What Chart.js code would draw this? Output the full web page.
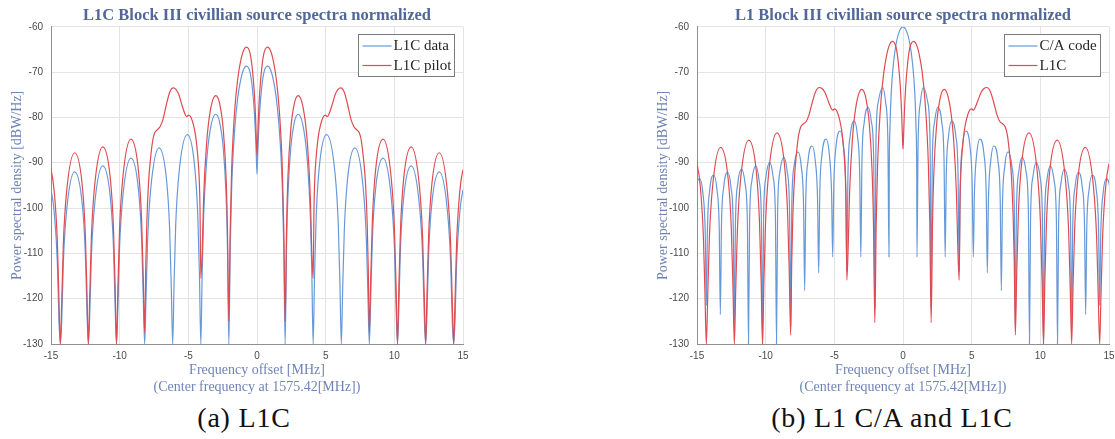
<!DOCTYPE html>
<html>
<head>
<meta charset="utf-8">
<title>Block III civilian source spectra</title>
<script src="https://cdn.jsdelivr.net/npm/chart.js@4.4.1/dist/chart.umd.min.js"></script>
<style>
  html, body { margin: 0; padding: 0; background: #fff; }
  body { position: relative; width: 1115px; height: 439px; overflow: hidden; }
  canvas { position: absolute; top: 0; }
  #leftChart { left: 0; }
  #rightChart { left: 646px; }
  .caption {
    position: absolute; top: 404px; line-height: 28px;
    font-family: "Liberation Serif", serif; font-size: 28px; letter-spacing: 0.8px;
    color: #111; white-space: nowrap; transform: translateX(-50%);
  }
</style>
</head>
<body>
<canvas id="leftChart" width="514" height="402"></canvas>
<canvas id="rightChart" width="514" height="402"></canvas>
<div class="caption" style="left:244px">(a) L1C</div>
<div class="caption" style="left:892px">(b) L1 C/A and L1C</div>
<script>
// frequency offset [MHz] / PSD [dBW/Hz] pairs

const l1cData = [
  [-15.33, -93.8], [-15.0, -96.0], [-14.77, -100.8], [-14.54, -111.8], [-14.42, -124.8], [-14.32, -130],
  [-14.22, -125.0], [-14.1, -112.0], [-13.87, -100.8], [-13.28, -92.0], [-12.73, -99.0], [-12.5, -110.0], [-12.38, -123.0], [-12.28, -130],
  [-12.18, -123.7], [-12.06, -110.7], [-11.83, -99.5], [-11.23, -90.7], [-10.68, -97.7], [-10.45, -108.7], [-10.33, -121.7], [-10.23, -130],
  [-10.13, -122.0], [-10.01, -109.0], [-9.78, -97.8], [-9.18, -89.0], [-8.63, -96.0], [-8.4, -107.0], [-8.28, -120.0], [-8.18, -130],
  [-8.08, -119.7], [-7.96, -106.7], [-7.73, -95.5], [-7.13, -86.7], [-6.59, -93.7], [-6.36, -104.7], [-6.24, -117.7], [-6.14, -130],
  [-6.04, -116.8], [-5.92, -103.8], [-5.69, -92.6], [-5.07, -83.8], [-4.54, -90.8], [-4.31, -101.8], [-4.19, -114.8], [-4.09, -130],
  [-3.99, -114.0], [-3.89, -102.2], [-3.68, -90.2], [-3.41, -82.8], [-3.0, -79.3], [-2.73, -80.9], [-2.46, -86.7], [-2.25, -97.4], [-2.15, -108.9], [-2.05, -130],
  [-1.95, -108.7], [-1.85, -96.1], [-1.75, -88.8], [-1.6, -81.7], [-1.4, -75.6], [-1.2, -71.9], [-1.0, -69.6], [-0.77, -68.7],
  [-0.5, -70.1], [-0.35, -73.2], [-0.2, -78.5], [-0.1, -84.5], [-0.05, -88.5], [0, -92.5],
  [0.05, -88.5], [0.1, -84.5], [0.2, -78.5], [0.35, -73.2], [0.5, -70.1],
  [0.77, -68.7], [1.0, -69.6], [1.2, -71.9], [1.4, -75.6], [1.6, -81.7], [1.75, -88.8], [1.85, -96.1], [1.95, -108.7], [2.05, -130],
  [2.15, -108.9], [2.25, -97.4], [2.46, -86.7], [2.73, -80.9], [3.0, -79.3], [3.41, -82.8], [3.68, -90.2], [3.89, -102.2], [3.99, -114.0], [4.09, -130],
  [4.19, -114.8], [4.31, -101.8], [4.54, -90.8], [5.07, -83.8], [5.69, -92.6], [5.92, -103.8], [6.04, -116.8], [6.14, -130],
  [6.24, -117.7], [6.36, -104.7], [6.59, -93.7], [7.13, -86.7], [7.73, -95.5], [7.96, -106.7], [8.08, -119.7], [8.18, -130],
  [8.28, -120.0], [8.4, -107.0], [8.63, -96.0], [9.18, -89.0], [9.78, -97.8], [10.01, -109.0], [10.13, -122.0], [10.23, -130],
  [10.33, -121.7], [10.45, -108.7], [10.68, -97.7], [11.23, -90.7], [11.83, -99.5], [12.06, -110.7], [12.18, -123.7], [12.28, -130],
  [12.38, -123.0], [12.5, -110.0], [12.73, -99.0], [13.28, -92.0], [13.87, -100.8], [14.1, -112.0], [14.22, -125.0], [14.32, -130],
  [14.42, -124.8], [14.54, -111.8], [14.77, -100.8], [15.0, -96.0], [15.33, -93.8]
];

const l1cPilot = [
  [-15.33, -89.2], [-15.0, -91.5], [-14.77, -96.2], [-14.54, -107.2], [-14.42, -120.2], [-14.32, -130],
  [-14.22, -120.8], [-14.1, -107.8], [-13.87, -96.6], [-13.28, -87.8], [-12.73, -94.8], [-12.5, -105.8], [-12.38, -118.8], [-12.28, -130],
  [-12.18, -119.5], [-12.06, -106.5], [-11.83, -95.3], [-11.23, -86.5], [-10.68, -93.5], [-10.45, -104.5], [-10.33, -117.5], [-10.23, -130],
  [-10.13, -117.8], [-10.01, -104.8], [-9.78, -93.6], [-9.18, -84.8], [-8.63, -91.8], [-8.4, -102.8], [-8.28, -115.8], [-8.18, -127.5],
  [-8.1, -113.0], [-8.02, -103.0], [-7.9, -94.5], [-7.75, -89.0], [-7.6, -85.2], [-7.45, -83.4], [-7.25, -82.7], [-7.05, -82.0],
  [-6.85, -80.5], [-6.6, -77.2], [-6.35, -74.4], [-6.1, -73.5], [-5.9, -73.8], [-5.7, -74.9], [-5.5, -76.9], [-5.3, -78.8],
  [-5.12, -79.8], [-4.98, -79.5], [-4.8, -80.0], [-4.6, -82.0], [-4.45, -84.5], [-4.3, -89.0], [-4.2, -94.0], [-4.15, -100.0], [-4.09, -115.5],
  [-3.99, -109.9], [-3.89, -98.1], [-3.68, -86.1], [-3.41, -78.7], [-3.0, -75.2], [-2.73, -76.8], [-2.46, -82.6], [-2.25, -93.3], [-2.15, -104.8], [-2.05, -125.0],
  [-1.95, -104.5], [-1.85, -91.9], [-1.75, -84.6], [-1.6, -77.5], [-1.4, -71.4], [-1.2, -67.7], [-1.0, -65.4], [-0.77, -64.5],
  [-0.5, -65.9], [-0.35, -69.0], [-0.2, -74.3], [-0.1, -80.3], [-0.05, -84.8], [0, -88.5],
  [0.05, -84.8], [0.1, -80.3], [0.2, -74.3], [0.35, -69.0], [0.5, -65.9],
  [0.77, -64.5], [1.0, -65.4], [1.2, -67.7], [1.4, -71.4], [1.6, -77.5], [1.75, -84.6], [1.85, -91.9], [1.95, -104.5], [2.05, -125.0],
  [2.15, -104.8], [2.25, -93.3], [2.46, -82.6], [2.73, -76.8], [3.0, -75.2], [3.41, -78.7], [3.68, -86.1], [3.89, -98.1], [3.99, -109.9], [4.09, -115.5],
  [4.15, -100.0], [4.2, -94.0], [4.3, -89.0], [4.45, -84.5], [4.6, -82.0], [4.8, -80.0], [4.98, -79.5], [5.12, -79.8],
  [5.3, -78.8], [5.5, -76.9], [5.7, -74.9], [5.9, -73.8], [6.1, -73.5], [6.35, -74.4], [6.6, -77.2], [6.85, -80.5],
  [7.05, -82.0], [7.25, -82.7], [7.45, -83.4], [7.6, -85.2], [7.75, -89.0], [7.9, -94.5], [8.02, -103.0], [8.1, -113.0], [8.18, -127.5],
  [8.28, -115.8], [8.4, -102.8], [8.63, -91.8], [9.18, -84.8], [9.78, -93.6], [10.01, -104.8], [10.13, -117.8], [10.23, -130],
  [10.33, -117.5], [10.45, -104.5], [10.68, -93.5], [11.23, -86.5], [11.83, -95.3], [12.06, -106.5], [12.18, -119.5], [12.28, -130],
  [12.38, -118.8], [12.5, -105.8], [12.73, -94.8], [13.28, -87.8], [13.87, -96.6], [14.1, -107.8], [14.22, -120.8], [14.32, -130],
  [14.42, -120.2], [14.54, -107.2], [14.77, -96.2], [15.0, -91.5], [15.33, -89.2]
];

const caCode = [
  [-15.35, -120.0], [-15.27, -105.5], [-15.1, -96.7], [-14.82, -93.5], [-14.57, -96.7], [-14.4, -105.5], [-14.32, -121.5],
  [-14.24, -104.7], [-14.07, -95.9], [-13.79, -92.7], [-13.55, -95.9], [-13.38, -104.7], [-13.3, -123.5],
  [-13.22, -104.1], [-13.05, -95.3], [-12.77, -92.1], [-12.53, -95.3], [-12.36, -104.1], [-12.28, -126.3],
  [-12.2, -103.4], [-12.03, -94.6], [-11.75, -91.4], [-11.5, -94.6], [-11.33, -103.4], [-11.25, -130],
  [-11.17, -102.7], [-11.0, -93.9], [-10.72, -90.7], [-10.48, -93.9], [-10.31, -102.7], [-10.23, -130],
  [-10.15, -101.9], [-9.98, -93.1], [-9.7, -89.9], [-9.46, -93.1], [-9.29, -101.9], [-9.21, -130],
  [-9.13, -100.8], [-8.96, -92.0], [-8.68, -88.8], [-8.43, -92.0], [-8.26, -100.8], [-8.18, -126.0],
  [-8.1, -99.6], [-7.93, -90.8], [-7.65, -87.6], [-7.41, -90.8], [-7.24, -99.6], [-7.16, -118.2],
  [-7.08, -98.3], [-6.91, -89.5], [-6.62, -86.3], [-6.39, -89.5], [-6.22, -98.3], [-6.14, -114.3],
  [-6.06, -96.8], [-5.89, -88.0], [-5.6, -84.8], [-5.37, -88.0], [-5.2, -96.8], [-5.12, -110.8],
  [-5.04, -95.0], [-4.87, -86.2], [-4.58, -83.0], [-4.34, -86.2], [-4.17, -95.0], [-4.09, -114.0],
  [-4.01, -92.8], [-3.84, -84.0], [-3.55, -80.8], [-3.32, -84.0], [-3.15, -92.8], [-3.07, -110.8],
  [-2.99, -89.8], [-2.82, -81.0], [-2.52, -77.8], [-2.3, -81.0], [-2.13, -89.8], [-2.05, -122.0],
  [-1.97, -85.4], [-1.8, -76.6], [-1.47, -73.4], [-1.27, -76.6], [-1.1, -85.4], [-1.02, -110.8],
  [-1.0, -92.0], [-0.95, -82.4], [-0.85, -74.2], [-0.7, -68.2], [-0.5, -63.7], [-0.25, -60.9], [0, -60.0],
  [0.25, -60.9], [0.5, -63.7], [0.7, -68.2], [0.85, -74.2], [0.95, -82.4], [1.0, -92.0], [1.02, -110.8],
  [1.1, -85.4], [1.27, -76.6], [1.47, -73.4], [1.8, -76.6], [1.97, -85.4], [2.05, -122.0],
  [2.13, -89.8], [2.3, -81.0], [2.52, -77.8], [2.82, -81.0], [2.99, -89.8], [3.07, -110.8],
  [3.15, -92.8], [3.32, -84.0], [3.55, -80.8], [3.84, -84.0], [4.01, -92.8], [4.09, -114.0],
  [4.17, -95.0], [4.34, -86.2], [4.58, -83.0], [4.87, -86.2], [5.04, -95.0], [5.12, -110.8],
  [5.2, -96.8], [5.37, -88.0], [5.6, -84.8], [5.89, -88.0], [6.06, -96.8], [6.14, -114.3],
  [6.22, -98.3], [6.39, -89.5], [6.62, -86.3], [6.91, -89.5], [7.08, -98.3], [7.16, -118.2],
  [7.24, -99.6], [7.41, -90.8], [7.65, -87.6], [7.93, -90.8], [8.1, -99.6], [8.18, -126.0],
  [8.26, -100.8], [8.43, -92.0], [8.68, -88.8], [8.96, -92.0], [9.13, -100.8], [9.21, -130],
  [9.29, -101.9], [9.46, -93.1], [9.7, -89.9], [9.98, -93.1], [10.15, -101.9], [10.23, -130],
  [10.31, -102.7], [10.48, -93.9], [10.72, -90.7], [11.0, -93.9], [11.17, -102.7], [11.25, -130],
  [11.33, -103.4], [11.5, -94.6], [11.75, -91.4], [12.03, -94.6], [12.2, -103.4], [12.28, -126.3],
  [12.36, -104.1], [12.53, -95.3], [12.77, -92.1], [13.05, -95.3], [13.22, -104.1], [13.3, -123.5],
  [13.38, -104.7], [13.55, -95.9], [13.79, -92.7], [14.07, -95.9], [14.24, -104.7], [14.32, -121.5],
  [14.4, -105.5], [14.57, -96.7], [14.82, -93.5], [15.1, -96.7], [15.27, -105.5], [15.35, -120.0]
];

const l1cSignal = [
  [-15.33, -87.9], [-15.0, -90.2], [-14.77, -94.9], [-14.54, -105.9], [-14.42, -118.9], [-14.32, -130],
  [-14.22, -119.6], [-14.1, -106.6], [-13.87, -95.4], [-13.28, -86.6], [-12.73, -93.6], [-12.5, -104.6], [-12.38, -117.6], [-12.28, -130],
  [-12.18, -118.0], [-12.06, -105.0], [-11.83, -93.8], [-11.23, -85.0], [-10.68, -92.0], [-10.45, -103.0], [-10.33, -116.0], [-10.23, -130],
  [-10.13, -116.4], [-10.01, -103.4], [-9.78, -92.2], [-9.18, -83.4], [-8.63, -90.4], [-8.4, -101.4], [-8.28, -114.4], [-8.18, -128.0],
  [-8.1, -111.7], [-8.02, -101.7], [-7.9, -93.2], [-7.75, -87.7], [-7.6, -83.9], [-7.45, -82.1], [-7.25, -81.4], [-7.05, -80.9],
  [-6.85, -79.5], [-6.6, -76.6], [-6.35, -74.2], [-6.1, -73.4], [-5.9, -73.6], [-5.7, -74.4], [-5.5, -75.9], [-5.3, -77.5],
  [-5.12, -78.4], [-4.98, -78.1], [-4.8, -78.7], [-4.6, -80.7], [-4.45, -83.2], [-4.3, -87.8], [-4.2, -93.0], [-4.15, -99.0], [-4.09, -115.9],
  [-3.99, -108.5], [-3.89, -96.7], [-3.68, -84.7], [-3.41, -77.3], [-3.0, -73.8], [-2.73, -75.4], [-2.46, -81.2], [-2.25, -91.9], [-2.15, -103.4], [-2.05, -125.3],
  [-1.95, -103.2], [-1.85, -90.6], [-1.75, -83.3], [-1.6, -76.2], [-1.4, -70.1], [-1.2, -66.4], [-1.0, -64.1], [-0.77, -63.2],
  [-0.5, -64.6], [-0.35, -67.7], [-0.2, -73.0], [-0.1, -79.0], [-0.05, -83.5], [0, -87.0],
  [0.05, -83.5], [0.1, -79.0], [0.2, -73.0], [0.35, -67.7], [0.5, -64.6],
  [0.77, -63.2], [1.0, -64.1], [1.2, -66.4], [1.4, -70.1], [1.6, -76.2], [1.75, -83.3], [1.85, -90.6], [1.95, -103.2], [2.05, -125.3],
  [2.15, -103.4], [2.25, -91.9], [2.46, -81.2], [2.73, -75.4], [3.0, -73.8], [3.41, -77.3], [3.68, -84.7], [3.89, -96.7], [3.99, -108.5], [4.09, -115.9],
  [4.15, -99.0], [4.2, -93.0], [4.3, -87.8], [4.45, -83.2], [4.6, -80.7], [4.8, -78.7], [4.98, -78.1], [5.12, -78.4],
  [5.3, -77.5], [5.5, -75.9], [5.7, -74.4], [5.9, -73.6], [6.1, -73.4], [6.35, -74.2], [6.6, -76.6], [6.85, -79.5],
  [7.05, -80.9], [7.25, -81.4], [7.45, -82.1], [7.6, -83.9], [7.75, -87.7], [7.9, -93.2], [8.02, -101.7], [8.1, -111.7], [8.18, -128.0],
  [8.28, -114.4], [8.4, -101.4], [8.63, -90.4], [9.18, -83.4], [9.78, -92.2], [10.01, -103.4], [10.13, -116.4], [10.23, -130],
  [10.33, -116.0], [10.45, -103.0], [10.68, -92.0], [11.23, -85.0], [11.83, -93.8], [12.06, -105.0], [12.18, -118.0], [12.28, -130],
  [12.38, -117.6], [12.5, -104.6], [12.73, -93.6], [13.28, -86.6], [13.87, -95.4], [14.1, -106.6], [14.22, -119.6], [14.32, -130],
  [14.42, -118.9], [14.54, -105.9], [14.77, -94.9], [15.0, -90.2], [15.33, -87.9]
];

const freqTicks = [-15, -10, -5, 0, 5, 10, 15];
const psdTicks = [-130, -120, -110, -100, -90, -80, -70, -60];

const xTitle = ['Frequency offset [MHz]', '(Center frequency at 1575.42[MHz])'];
const yTitle = 'Power spectral density [dBW/Hz]';

const titleColor = '#51679a';
const labelColor = '#6f84b6';
const blue = '#6798d8';
const red = '#df4b50';

const serif = '"Liberation Serif", "Times New Roman", serif';
Chart.defaults.font.family = '"Liberation Sans", Arial, sans-serif';

// legend box drawn inside the axes, top right corner
const boxLegend = {
  id: 'boxLegend',
  afterDatasetsDraw(chart) {
    const { ctx, chartArea } = chart;
    const w = 96, h = 42;
    const x = Math.round(chartArea.right - 9 - w) + 0.5;
    const y = Math.round(chartArea.top + 7) + 0.5;
    ctx.save();
    ctx.fillStyle = '#fff';
    ctx.fillRect(x, y, w, h);
    ctx.strokeStyle = '#7a7a7a';
    ctx.lineWidth = 1;
    ctx.strokeRect(x, y, w, h);
    ctx.font = '15px ' + serif;
    ctx.textBaseline = 'middle';
    chart.data.datasets.forEach((ds, i) => {
      const ly = y + 11.5 + i * 19.5;
      ctx.strokeStyle = ds.borderColor;
      ctx.lineWidth = 1.2;
      ctx.beginPath();
      ctx.moveTo(x + 4, ly);
      ctx.lineTo(x + 33, ly);
      ctx.stroke();
      ctx.fillStyle = '#262626';
      ctx.fillText(ds.label, x + 35, ly + 0.5);
    });
    ctx.restore();
  }
};

function spectrumChart(id, title, series) {
  return new Chart(document.getElementById(id), {
    type: 'line',
    data: {
      datasets: series.map((s, i) => ({
        label: s.label,
        data: s.points,
        borderColor: s.color,
        borderWidth: 1.2,
        pointRadius: 0,
        fill: false,
        cubicInterpolationMode: 'monotone',
        order: series.length - i   // later series on top
      }))
    },
    options: {
      responsive: false,
      animation: false,
      devicePixelRatio: 1,
      events: [],
      layout: { padding: 0 },
      plugins: {
        legend: { display: false },
        tooltip: { enabled: false },
        title: {
          display: true,
          text: title,
          color: titleColor,
          font: { family: serif, size: 16.5, weight: 'bold', lineHeight: 1.2 },
          padding: { top: 6, bottom: 1 }
        }
      },
      scales: {
        x: {
          type: 'linear',
          min: -15,
          max: 15,
          afterBuildTicks: s => { s.ticks = freqTicks.map(v => ({ value: v })); },
          afterFit: s => { s.height = 58; },
          grid: { color: '#e4e4e4', drawTicks: false },
          border: { color: '#8f8f8f' },
          ticks: { color: '#4a4a4a', font: { size: 10 }, padding: 6, maxRotation: 0 },
          title: {
            display: true,
            text: xTitle,
            color: labelColor,
            font: { family: serif, size: 14, lineHeight: 1.2 },
            padding: { top: 0, bottom: 6.6 }
          }
        },
        y: {
          type: 'linear',
          min: -130,
          max: -60,
          afterBuildTicks: s => { s.ticks = psdTicks.map(v => ({ value: v })); },
          afterFit: s => { s.width = 51; },
          grid: { color: '#e4e4e4', drawTicks: false },
          border: { color: '#8f8f8f' },
          ticks: { color: '#4a4a4a', font: { size: 10 }, padding: 8 },
          title: {
            display: true,
            text: yTitle,
            color: labelColor,
            font: { family: serif, size: 14, lineHeight: 1.2 },
            padding: { top: 9, bottom: 0 }
          }
        },
        // empty right-hand box so the title centres over the axes
        yPad: {
          type: 'linear',
          position: 'right',
          afterFit: s => { s.width = 51; },
          grid: { display: false },
          border: { display: false },
          ticks: { display: false }
        }
      }
    },
    plugins: [boxLegend]
  });
}

spectrumChart('leftChart', 'L1C Block III civillian source spectra normalized', [
  { label: 'L1C data', points: l1cData, color: blue },
  { label: 'L1C pilot', points: l1cPilot, color: red }
]);

spectrumChart('rightChart', 'L1 Block III civillian source spectra normalized', [
  { label: 'C/A code', points: caCode, color: blue },
  { label: 'L1C', points: l1cSignal, color: red }
]);
</script>
</body>
</html>
